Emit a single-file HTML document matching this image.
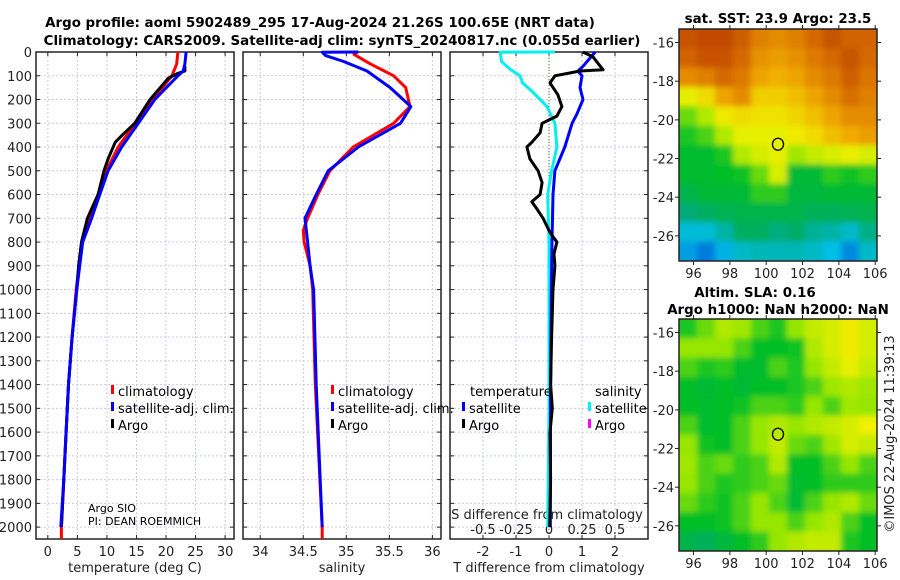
<!DOCTYPE html>
<html><head><meta charset="utf-8">
<style>
html,body{margin:0;padding:0;background:#fff;}
svg{display:block;font-family:"DejaVu Sans","Liberation Sans",sans-serif;}
.tk{font-size:13px;fill:#222;}
.tt{font-size:13.4px;font-weight:bold;fill:#000;}
.lg{font-size:13px;fill:#000;}
</style></head>
<body>
<svg id="fig" width="900" height="580" viewBox="0 0 900 580" xmlns="http://www.w3.org/2000/svg">
<defs><filter id="soft" x="0" y="0" width="1" height="1"><feGaussianBlur stdDeviation="3"/></filter>
<clipPath id="clipTop"><rect x="679" y="29" width="198" height="232"/></clipPath>
<clipPath id="clipBot"><rect x="679" y="319" width="198" height="232"/></clipPath></defs>
</svg>
<script>
// ---------- data ----------
const depthTicks = [0,100,200,300,400,500,600,700,800,900,1000,1100,1200,1300,1400,1500,1600,1700,1800,1900,2000];
const tempTicks = [0,5,10,15,20,25,30];
const salTicks = [34,34.5,35,35.5,36];
const salTickLabels = ["34","34.5","35","35.5","36"];
const tdiffTicks = [-2,-1,0,1,2];
const sdiffTicks = [-0.5,-0.25,0,0.25,0.5];
const sdiffTickLabels = ["-0.5","-0.25","0","0.25","0.5"];

const tClimDepth = [0,50,100,200,300,400,500,600,700,800,900,1000,1200,1400,1600,1800,2000,2050];
const tClimVal   = [22.0,21.8,21.0,17.8,14.8,11.9,9.9,8.5,7.1,5.8,5.3,4.8,4.1,3.5,3.1,2.7,2.3,2.3];
const tSatDepth  = [0,50,80,100,200,300,400,500,600,700,800,900,1000,1200,1400,1600,1800,2000];
const tSatVal    = [23.4,23.2,22.9,22.0,18.1,15.3,12.5,10.2,8.8,7.4,5.9,5.4,4.9,4.1,3.5,3.1,2.7,2.2];
const tArgoDepth = [60,80,90,110,200,300,350,380,450,500,600,650,700,800,900,1000,1200,1400,1600,1800,2000];
const tArgoVal   = [23.2,23.2,22.0,20.4,17.3,14.7,12.6,11.4,10.2,9.5,8.5,7.6,6.7,5.7,5.2,4.9,4.1,3.5,3.1,2.7,2.3];

const sClimDepth = [0,10,50,100,150,230,300,400,500,600,700,750,800,900,1000,1400,2000,2050];
const sClimVal   = [35.13,35.09,35.28,35.55,35.69,35.74,35.55,35.08,34.81,34.67,34.55,34.5,34.51,34.58,34.61,34.64,34.72,34.72];
const sSatDepth  = [0,1,15,40,80,150,230,300,400,500,600,700,800,900,1000,1400,2000];
const sSatVal    = [35.14,34.72,34.76,34.97,35.24,35.51,35.75,35.63,35.14,34.79,34.65,34.52,34.55,34.58,34.62,34.65,34.72];

const dTArgoDepth = [0,20,75,80,100,130,180,230,270,300,340,380,400,450,500,550,600,630,660,700,760,800,850,900,1000,1200,1400,1500,1600,1800,2000];
const dTArgoVal   = [1.03,1.33,1.64,0.94,0.18,0.03,0.27,0.39,0.24,-0.21,-0.27,-0.52,-0.67,-0.58,-0.33,-0.21,-0.27,-0.52,-0.37,-0.18,0.03,0.24,0.15,0.18,0.12,0.08,0.05,0.1,0.03,0.05,0.02];
const dTSatDepth  = [0,60,80,100,150,200,260,300,400,500,600,800,1000,1400,2000];
const dTSatVal    = [1.4,1.03,0.88,1.0,0.94,1.03,0.85,0.7,0.48,0.18,0.12,0.09,0.07,0.05,0.04];
const dSSatDepth  = [0,1,40,70,100,130,170,230,300,400,500,600,800,1000,1500,2000];
const dSSatVal    = [0.045,-0.37,-0.36,-0.3,-0.22,-0.2,-0.12,-0.015,0.045,0.06,0.02,-0.01,0.0,0.0,0.0,-0.01];

const lonTicks = [96,98,100,102,104,106];
const latTicks = [-16,-18,-20,-22,-24,-26];
const floatLon = 100.65, floatLat = -21.26;
const sstGrid = [
[0.9,0.92,0.92,0.88,0.82,0.8,0.82,0.86,0.9,0.87,0.87],
[0.87,0.9,0.9,0.86,0.79,0.77,0.79,0.83,0.86,0.9,0.86],
[0.8,0.82,0.86,0.83,0.76,0.74,0.76,0.8,0.83,0.88,0.84],
[0.64,0.68,0.76,0.8,0.7,0.7,0.72,0.76,0.8,0.85,0.82],
[0.52,0.58,0.66,0.68,0.67,0.67,0.69,0.72,0.76,0.8,0.8],
[0.47,0.5,0.58,0.64,0.64,0.64,0.66,0.68,0.72,0.75,0.77],
[0.44,0.44,0.47,0.58,0.62,0.64,0.56,0.6,0.62,0.64,0.62],
[0.44,0.44,0.45,0.46,0.52,0.62,0.43,0.43,0.48,0.46,0.48],
[0.4,0.43,0.43,0.43,0.48,0.48,0.42,0.42,0.43,0.43,0.43],
[0.34,0.37,0.39,0.4,0.4,0.4,0.4,0.38,0.38,0.39,0.4],
[0.22,0.22,0.28,0.37,0.37,0.33,0.36,0.3,0.28,0.24,0.32],
[0.15,0.1,0.18,0.24,0.26,0.26,0.26,0.24,0.2,0.12,0.24]];
const slaGrid = [
[0.47,0.52,0.58,0.56,0.5,0.47,0.55,0.6,0.62,0.66,0.62],
[0.55,0.55,0.55,0.5,0.45,0.45,0.46,0.58,0.62,0.66,0.62],
[0.5,0.47,0.48,0.44,0.44,0.5,0.47,0.55,0.6,0.64,0.6],
[0.45,0.43,0.45,0.43,0.45,0.45,0.47,0.5,0.56,0.58,0.56],
[0.45,0.44,0.45,0.46,0.5,0.5,0.48,0.55,0.5,0.56,0.55],
[0.5,0.44,0.45,0.5,0.55,0.58,0.55,0.58,0.6,0.62,0.65],
[0.55,0.46,0.45,0.5,0.55,0.6,0.52,0.5,0.56,0.62,0.6],
[0.56,0.5,0.52,0.48,0.5,0.58,0.45,0.45,0.5,0.55,0.5],
[0.55,0.5,0.47,0.48,0.5,0.52,0.44,0.45,0.48,0.48,0.48],
[0.52,0.48,0.46,0.5,0.55,0.5,0.43,0.5,0.55,0.58,0.52],
[0.45,0.45,0.46,0.5,0.55,0.55,0.5,0.55,0.58,0.5,0.45],
[0.4,0.38,0.42,0.45,0.48,0.55,0.58,0.6,0.6,0.47,0.45]];

// ---------- helpers ----------
const NS="http://www.w3.org/2000/svg";
const svg=document.getElementById('fig');
function mk(tag,attrs,parent){const e=document.createElementNS(NS,tag);for(const k in attrs)e.setAttribute(k,attrs[k]);(parent||svg).appendChild(e);return e;}
function txt(x,y,s,cls,anchor,parent){const t=mk('text',{x:x,y:y,class:cls,'text-anchor':anchor||'middle'},parent);t.textContent=s;return t;}

const TOP=52, BOT=539, DMAX=2050;
const yD = d => TOP + d/DMAX*(BOT-TOP);
const panels=[
 {name:'temperature-panel',x0:36,x1:234,v0:-2,v1:31.5},
 {name:'salinity-panel',x0:243,x1:441,v0:33.8,v1:36.1},
 {name:'difference-panel',x0:450,x1:648,v0:-3,v1:3}];
function xs(p){return v=>p.x0+(v-p.v0)/(p.v1-p.v0)*(p.x1-p.x0);}
const xT=xs(panels[0]), xS=xs(panels[1]), xDT=xs(panels[2]);
const xDS = s => xDT(s*4);

function line(depths,vals,xf,color,name,parent,w){
  let d='';for(let i=0;i<depths.length;i++){d+=(i?'L':'M')+xf(vals[i]).toFixed(1)+','+yD(depths[i]).toFixed(1);}
  const p=mk('path',{d:d,fill:'none',stroke:color,'stroke-width':w||3,'stroke-linejoin':'round'},parent);
  
  
  return p;
}

panels.forEach((p,pi)=>{
  const g=mk('g',{});
  
  
  const xf=xs(p);
  const xt = pi===0?tempTicks:pi===1?salTicks:tdiffTicks;
  depthTicks.forEach(d=>{mk('line',{x1:p.x0,x2:p.x1,y1:yD(d),y2:yD(d),stroke:'#c9cbe6','stroke-width':1,'stroke-dasharray':'2,2'},g);
    mk('line',{x1:p.x0,x2:p.x0+4,y1:yD(d),y2:yD(d),stroke:'#222'},g);
    mk('line',{x1:p.x1-4,x2:p.x1,y1:yD(d),y2:yD(d),stroke:'#222'},g);});
  xt.forEach(v=>{mk('line',{x1:xf(v),x2:xf(v),y1:TOP,y2:BOT,stroke:'#c9cbe6','stroke-width':1,'stroke-dasharray':'2,2'},g);
    mk('line',{x1:xf(v),x2:xf(v),y1:BOT-4,y2:BOT,stroke:'#222'},g);
    mk('line',{x1:xf(v),x2:xf(v),y1:TOP,y2:TOP+4,stroke:'#222'},g);});
  mk('rect',{x:p.x0,y:TOP,width:p.x1-p.x0,height:BOT-TOP,fill:'none',stroke:'#222','stroke-width':1.5},g);
  p.g=g;
});
const yl=mk('g',{});
depthTicks.forEach(d=>txt(32,yD(d)+5,String(d),'tk','end',yl));
const g0=panels[0].g,g1=panels[1].g,g2=panels[2].g;
tempTicks.forEach(v=>txt(xT(v),556,String(v),'tk','middle',g0));
txt(135,572,'temperature (deg C)','tk','middle',g0);
salTicks.forEach((v,i)=>txt(xS(v),556,salTickLabels[i],'tk','middle',g1));
txt(342,572,'salinity','tk','middle',g1);
tdiffTicks.forEach(v=>txt(xDT(v),556,String(v),'tk','middle',g2));
txt(549,572,'T difference from climatology','tk','middle',g2);
txt(547,519,'S difference from climatology','tk','middle',g2);
sdiffTicks.forEach((v,i)=>txt(xDS(v),534,sdiffTickLabels[i],'tk','middle',g2));
mk('line',{x1:xDT(0),x2:xDT(0),y1:TOP,y2:BOT,stroke:'#556b2f','stroke-width':1,'stroke-dasharray':'1,2'},g2);

line(tClimDepth,tClimVal,xT,'#ff0000','temp-climatology-line',g0);
line(tArgoDepth,tArgoVal,xT,'#000000','temp-argo-line',g0);
line(tSatDepth,tSatVal,xT,'#0000ff','temp-satellite-line',g0);
line(sClimDepth,sClimVal,xS,'#ff0000','salinity-climatology-line',g1);
line(sSatDepth,sSatVal,xS,'#0000ff','salinity-satellite-line',g1);
line(dSSatDepth,dSSatVal,xDS,'#00f0f0','s-diff-satellite-line',g2);
line(dTSatDepth,dTSatVal,xDT,'#0000ff','t-diff-satellite-line',g2);
line(dTArgoDepth,dTArgoVal,xDT,'#000000','t-diff-argo-line',g2);

function legItem(x,y,color,label,name,parent){
  const g=mk('g',{},parent);
  
  
  mk('rect',{x:x,y:y-11,width:3,height:9,fill:color},g);
  txt(x+7,y,label,'lg','start',g);
}
legItem(111,396,'#ff0000','climatology','legend-climatology',g0);
legItem(111,413,'#0000ff','satellite-adj. clim.','legend-satellite-adj',g0);
legItem(111,430,'#000000','Argo','legend-argo',g0);
legItem(331,396,'#ff0000','climatology','legend-sal-climatology',g1);
legItem(331,413,'#0000ff','satellite-adj. clim.','legend-sal-satellite-adj',g1);
legItem(331,430,'#000000','Argo','legend-sal-argo',g1);
txt(470,396,'temperature','lg','start',g2);
legItem(462,413,'#0000ff','satellite','legend-t-satellite',g2);
legItem(462,430,'#000000','Argo','legend-t-argo',g2);
txt(595,396,'salinity','lg','start',g2);
legItem(588,413,'#00f0f0','satellite','legend-s-satellite',g2);
legItem(588,430,'#ff00ff','Argo','legend-s-argo',g2);
const pi=mk('g',{},g0);
const t1=txt(88,512,'Argo SIO','lg','start',pi);t1.setAttribute('style','font-size:11px');
const t2=txt(88,525,'PI: DEAN ROEMMICH','lg','start',pi);t2.setAttribute('style','font-size:11px');

txt(320,27,'Argo profile: aoml 5902489_295 17-Aug-2024 21.26S 100.65E (NRT data)','tt');
txt(342,45,'Climatology: CARS2009. Satellite-adj clim: synTS_20240817.nc (0.055d earlier)','tt');

// ---------- maps ----------
const palStops=[0,0.2,0.35,0.45,0.55,0.65,0.75,0.85,1.0];
const palCols=[[0,60,210],[0,190,230],[0,170,110],[0,190,40],[150,230,0],[240,240,0],[240,170,0],[215,110,0],[170,30,0]];
function cmap(v){
  v=Math.max(0,Math.min(1,v));
  let i=0;while(i<palStops.length-2&&v>palStops[i+1])i++;
  const t=(v-palStops[i])/(palStops[i+1]-palStops[i]);
  const a=palCols[i],b=palCols[i+1];
  return 'rgb('+a.map((c,k)=>Math.round(c+(b[k]-c)*t)).join(',')+')';
}
const MX0=679,MX1=877,LON0=95.2,LON1=106.1,LAT0=-15.3,LAT1=-27.3;
function drawMap(top,grid,name,clip){
  const bot=top+232;
  const g=mk('g',{});
  
  
  const xm=lon=>MX0+(lon-LON0)/(LON1-LON0)*(MX1-MX0);
  const ym=lat=>top+(lat-LAT0)/(LAT1-LAT0)*(bot-top);
  const rows=grid.length, cols=grid[0].length;
  const cw=(MX1-MX0)/cols, ch=(bot-top)/rows;
  const cg=mk('g',{'clip-path':'url(#'+clip+')'},g);
  const bg=mk('g',{filter:'url(#soft)'},cg);
  grid.forEach((row,r)=>row.forEach((v,c)=>{
    const cell=mk('rect',{x:(MX0+c*cw-(c===0?8:0)).toFixed(2),y:(top+r*ch-(r===0?8:0)).toFixed(2),width:(cw+0.6+(c===0||c===cols-1?8:0)).toFixed(2),height:(ch+0.6+(r===0||r===rows-1?8:0)).toFixed(2),fill:cmap(v)},bg);
    
    
  }));
  mk('rect',{x:MX0,y:top,width:MX1-MX0,height:bot-top,fill:'none',stroke:'#222','stroke-width':1.5},g);
  lonTicks.forEach(l=>{mk('line',{x1:xm(l),x2:xm(l),y1:bot,y2:bot+4,stroke:'#222'},g);mk('line',{x1:xm(l),x2:xm(l),y1:top-4,y2:top,stroke:'#222'},g);txt(xm(l),bot+17,String(l),'tk','middle',g);});
  latTicks.forEach(l=>{mk('line',{x1:MX0-4,x2:MX0,y1:ym(l),y2:ym(l),stroke:'#222'},g);mk('line',{x1:MX1,x2:MX1+4,y1:ym(l),y2:ym(l),stroke:'#222'},g);txt(674,ym(l)+5,String(l),'tk','end',g);});
  const c=mk('ellipse',{cx:xm(floatLon),cy:ym(floatLat),rx:5.5,ry:6,fill:'none',stroke:'#000','stroke-width':1.3},g);
  
  
  return g;
}
drawMap(29,sstGrid,'sst-map','clipTop');
drawMap(319,slaGrid,'sla-map','clipBot');
txt(778,23,'sat. SST: 23.9 Argo: 23.5','tt');
txt(755,297,'Altim. SLA: 0.16','tt');
txt(778,314,'Argo h1000: NaN h2000: NaN','tt');
const ts=txt(0,0,'©IMOS 22-Aug-2024 11:39:13','tk','middle');
ts.setAttribute('transform','translate(894,434) rotate(-90)');


</script>
</body></html>
